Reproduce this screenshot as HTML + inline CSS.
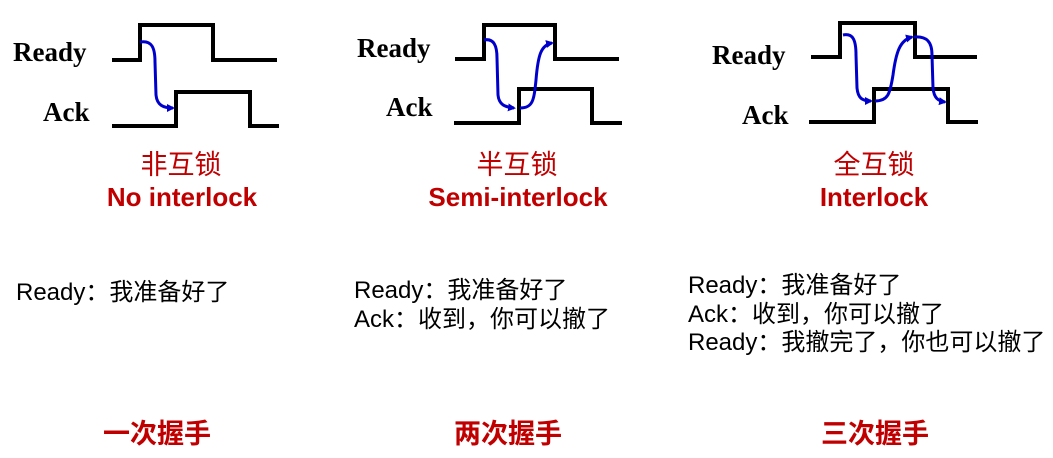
<!DOCTYPE html>
<html><head><meta charset="utf-8"><style>
body{margin:0;width:1053px;height:458px;background:#fff;position:relative;overflow:hidden;font-family:"Liberation Sans","Noto Sans CJK SC",sans-serif}
.t{position:absolute;white-space:nowrap}
.lbl{font-family:"Liberation Serif","Noto Serif CJK SC",serif;font-weight:bold;font-size:27px;color:#000;line-height:32px}
.cn{color:#c00000;font-size:27px;text-align:center;width:300px;line-height:34px}
.en{color:#c00000;font-size:26px;font-weight:bold;text-align:center;width:300px;line-height:32px}
.d{font-size:24px;color:#000;line-height:28.5px}
.b{color:#c00000;font-size:27px;font-weight:bold;text-align:center;width:200px;line-height:32px}
</style></head><body>
<svg width="1053" height="458" style="position:absolute;left:0;top:0">
<defs><marker id="a" markerWidth="8" markerHeight="8" refX="6" refY="4" orient="auto" markerUnits="userSpaceOnUse"><path d="M0,0L8,4L0,8z" fill="#0000cc"/></marker></defs>
<g fill="none" stroke="#000" stroke-width="4">
<polyline points="112,60 140,60 140,25 213,25 213,60 277,60"/>
<polyline points="112,126 176,126 176,92 250,92 250,126 279,126"/>
<polyline points="455,59 484,59 484,25 555,25 555,59 619,59"/>
<polyline points="454,123 519,123 519,89 592,89 592,123 622,123"/>
<polyline points="811,57 840,57 840,23 915,23 915,57 977,57"/>
<polyline points="809,122 874,122 874,89 948,89 948,122 978,122"/>
</g>
<g fill="none" stroke="#0000cc" stroke-width="3">
<path d="M140,42 C152,40 155,48 155,62 L156,95 C157,105 163,108 173,108" marker-end="url(#a)"/>
<path d="M484,40 C494,38 497,46 497,58 L498,95 C499,105 505,107 514,108" marker-end="url(#a)"/>
<path d="M520,108 C533,108 534,100 536,80 C538,55 541,45 552,43" marker-end="url(#a)"/>
<path d="M843,35 C853,33 856,40 856,55 L857,88 C858,98 862,101 871,101" marker-end="url(#a)"/>
<path d="M875,101 C888,101 890,94 893,75 C896,52 900,40 912,37" marker-end="url(#a)"/>
<path d="M914,37 C927,36 932,42 932,55 L933,88 C934,98 938,101 945,102" marker-end="url(#a)"/>
</g>
</svg>
<div class="t lbl" style="left:13px;top:36px">Ready</div>
<div class="t lbl" style="left:43px;top:96px">Ack</div>
<div class="t lbl" style="left:357px;top:32px">Ready</div>
<div class="t lbl" style="left:386px;top:91px">Ack</div>
<div class="t lbl" style="left:712px;top:39px">Ready</div>
<div class="t lbl" style="left:742px;top:99px">Ack</div>
<div class="t cn" style="left:31px;top:148px">非互锁</div>
<div class="t en" style="left:32px;top:181px">No interlock</div>
<div class="t cn" style="left:367px;top:148px">半互锁</div>
<div class="t en" style="left:368px;top:181px">Semi-interlock</div>
<div class="t cn" style="left:724px;top:148px">全互锁</div>
<div class="t en" style="left:724px;top:181px">Interlock</div>
<div class="t d" style="left:16px;top:279px">Ready：我准备好了</div>
<div class="t d" style="left:354px;top:277px">Ready：我准备好了<br>Ack：收到，你可以撤了</div>
<div class="t d" style="left:688px;top:272px">Ready：我准备好了<br>Ack：收到，你可以撤了<br>Ready：我撤完了，你也可以撤了</div>
<div class="t b" style="left:57px;top:418px">一次握手</div>
<div class="t b" style="left:408px;top:418px">两次握手</div>
<div class="t b" style="left:775px;top:418px">三次握手</div>
</body></html>
